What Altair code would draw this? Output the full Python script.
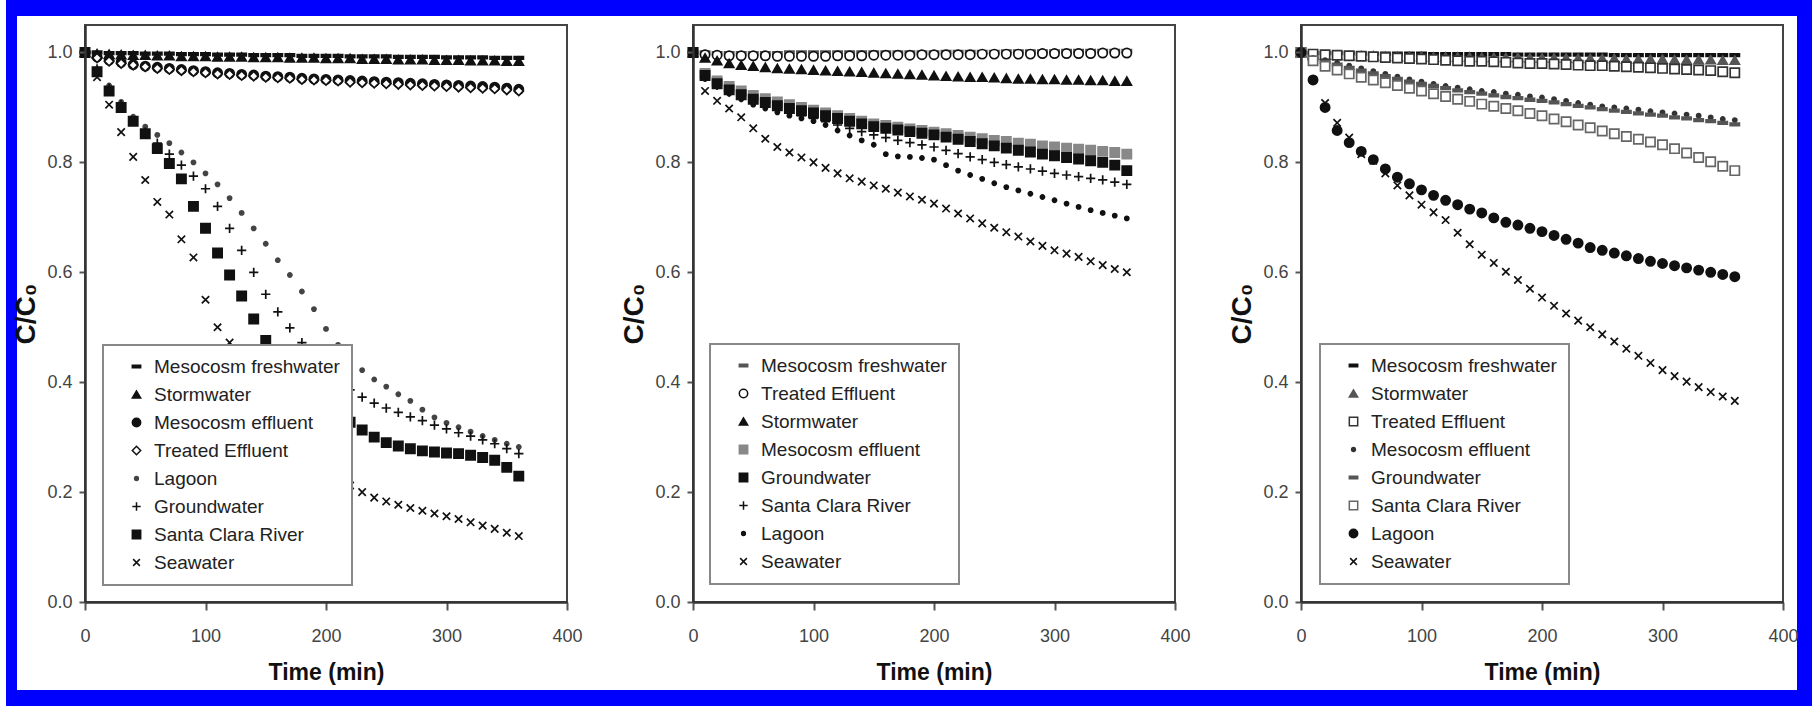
import altair as alt
import pandas as pd

# ---------------- data ----------------
TIME = [0, 10, 20, 30, 40, 50, 60, 70, 80, 90, 100, 110, 120, 130, 140, 150, 160, 170, 180,
        190, 200, 210, 220, 230, 240, 250, 260, 270, 280, 290, 300, 310, 320, 330, 340, 350, 360]

# Panel 1
P1_NAMES = ["Mesocosm freshwater", "Stormwater", "Mesocosm effluent", "Treated Effluent",
            "Lagoon", "Groundwater", "Santa Clara River", "Seawater"]
P1_FRESHWATER = [1.000,1.000,0.999,0.999,0.999,0.998,0.998,0.998,0.997,0.997,0.997,0.996,0.996,0.996,0.995,0.995,0.995,0.995,0.994,0.994,0.994,0.994,0.993,0.993,0.993,0.993,0.992,0.992,0.992,0.992,0.991,0.991,0.991,0.991,0.990,0.990,0.990]
P1_STORMWATER = [1.000,0.998,0.997,0.996,0.995,0.995,0.994,0.994,0.993,0.993,0.993,0.992,0.992,0.992,0.991,0.991,0.991,0.990,0.990,0.990,0.989,0.989,0.989,0.988,0.988,0.988,0.987,0.987,0.987,0.986,0.986,0.986,0.985,0.985,0.985,0.984,0.984]
P1_MESO_EFFLUENT = [1.000,0.992,0.986,0.982,0.978,0.975,0.973,0.971,0.969,0.967,0.965,0.963,0.962,0.960,0.959,0.957,0.956,0.955,0.953,0.952,0.951,0.950,0.949,0.948,0.947,0.946,0.945,0.944,0.943,0.942,0.941,0.940,0.939,0.938,0.937,0.935,0.933]
P1_TREATED = [1.000,0.990,0.984,0.980,0.977,0.974,0.971,0.969,0.967,0.965,0.963,0.961,0.960,0.958,0.957,0.955,0.954,0.953,0.951,0.950,0.949,0.948,0.946,0.945,0.944,0.943,0.942,0.941,0.940,0.939,0.938,0.937,0.936,0.935,0.934,0.932,0.930]
P1_LAGOON = [1.000,0.970,0.940,0.910,0.883,0.865,0.850,0.835,0.818,0.800,0.780,0.760,0.735,0.708,0.680,0.652,0.622,0.595,0.565,0.533,0.497,0.468,0.443,0.422,0.405,0.392,0.378,0.366,0.350,0.336,0.326,0.318,0.310,0.302,0.295,0.288,0.282]
P1_GROUNDWATER = [1.000,0.970,0.935,0.905,0.875,0.855,0.835,0.815,0.795,0.775,0.752,0.720,0.680,0.640,0.600,0.560,0.528,0.499,0.472,0.448,0.425,0.405,0.386,0.373,0.362,0.353,0.345,0.337,0.330,0.322,0.315,0.308,0.302,0.295,0.288,0.279,0.270]
P1_SANTA_CLARA = [1.000,0.965,0.930,0.900,0.875,0.852,0.825,0.798,0.770,0.720,0.680,0.635,0.595,0.557,0.515,0.476,0.445,0.418,0.395,0.375,0.358,0.342,0.327,0.313,0.300,0.290,0.284,0.279,0.275,0.273,0.271,0.270,0.267,0.263,0.258,0.245,0.229]
P1_SEAWATER = [1.000,0.955,0.905,0.855,0.810,0.768,0.728,0.705,0.660,0.627,0.550,0.500,0.472,0.430,0.400,0.370,0.340,0.312,0.287,0.265,0.245,0.228,0.212,0.200,0.190,0.183,0.177,0.171,0.166,0.161,0.156,0.151,0.145,0.139,0.133,0.126,0.120]
P1_SERIES = [P1_FRESHWATER, P1_STORMWATER, P1_MESO_EFFLUENT, P1_TREATED,
             P1_LAGOON, P1_GROUNDWATER, P1_SANTA_CLARA, P1_SEAWATER]

# Panel 2
P2_NAMES = ["Mesocosm freshwater", "Treated Effluent", "Stormwater", "Mesocosm effluent",
            "Groundwater", "Santa Clara River", "Lagoon", "Seawater"]
P2_FRESHWATER = [1.000,1.000,0.999,0.999,0.999,0.999,0.999,0.999,1.000,1.000,1.000,1.000,1.000,1.000,1.000,1.000,1.000,1.000,1.000,1.000,1.000,1.001,1.001,1.001,1.001,1.001,1.002,1.002,1.002,1.002,1.002,1.003,1.003,1.003,1.003,1.003,1.003]
P2_TREATED = [1.000,0.996,0.995,0.994,0.994,0.994,0.994,0.993,0.993,0.993,0.993,0.993,0.994,0.994,0.994,0.995,0.995,0.995,0.995,0.996,0.996,0.996,0.996,0.996,0.997,0.997,0.997,0.997,0.997,0.998,0.998,0.998,0.998,0.998,0.999,0.999,0.999]
P2_STORMWATER = [1.000,0.990,0.985,0.980,0.977,0.975,0.973,0.971,0.970,0.969,0.968,0.967,0.966,0.965,0.964,0.963,0.962,0.961,0.960,0.959,0.958,0.957,0.956,0.955,0.955,0.954,0.953,0.952,0.952,0.951,0.951,0.950,0.950,0.949,0.949,0.948,0.948]
P2_MESO_EFFLUENT = [1.000,0.962,0.948,0.938,0.930,0.922,0.916,0.910,0.905,0.900,0.895,0.890,0.885,0.880,0.875,0.870,0.867,0.864,0.861,0.858,0.855,0.852,0.849,0.846,0.843,0.840,0.838,0.835,0.833,0.830,0.828,0.826,0.824,0.822,0.820,0.818,0.815]
P2_GROUNDWATER = [1.000,0.958,0.943,0.932,0.923,0.915,0.909,0.903,0.898,0.894,0.890,0.885,0.880,0.875,0.870,0.865,0.862,0.859,0.856,0.853,0.850,0.846,0.842,0.838,0.834,0.830,0.826,0.822,0.819,0.815,0.812,0.809,0.806,0.803,0.800,0.795,0.785]
P2_SANTA_CLARA = [1.000,0.955,0.940,0.928,0.918,0.910,0.903,0.896,0.890,0.885,0.880,0.874,0.868,0.862,0.856,0.850,0.845,0.840,0.836,0.832,0.828,0.822,0.816,0.810,0.805,0.800,0.796,0.792,0.788,0.784,0.780,0.777,0.774,0.771,0.768,0.764,0.760]
P2_LAGOON = [1.000,0.952,0.938,0.925,0.915,0.905,0.898,0.891,0.885,0.880,0.875,0.868,0.858,0.849,0.840,0.832,0.815,0.811,0.810,0.808,0.805,0.795,0.785,0.777,0.770,0.762,0.755,0.749,0.743,0.737,0.731,0.725,0.719,0.713,0.708,0.703,0.698]
P2_SEAWATER = [1.000,0.930,0.912,0.898,0.882,0.862,0.843,0.828,0.818,0.809,0.800,0.790,0.780,0.771,0.765,0.758,0.752,0.745,0.738,0.732,0.725,0.716,0.707,0.698,0.689,0.681,0.673,0.665,0.656,0.648,0.640,0.634,0.628,0.620,0.613,0.606,0.600]
P2_SERIES = [P2_FRESHWATER, P2_TREATED, P2_STORMWATER, P2_MESO_EFFLUENT,
             P2_GROUNDWATER, P2_SANTA_CLARA, P2_LAGOON, P2_SEAWATER]

# Panel 3
P3_NAMES = ["Mesocosm freshwater", "Stormwater", "Treated Effluent", "Mesocosm effluent",
            "Groundwater", "Santa Clara River", "Lagoon", "Seawater"]
P3_FRESHWATER = [1.000,0.999,0.999,0.999,0.999,0.998,0.998,0.998,0.998,0.998,0.998,0.997,0.997,0.997,0.997,0.997,0.997,0.997,0.996,0.996,0.996,0.996,0.996,0.996,0.996,0.996,0.995,0.995,0.995,0.995,0.995,0.995,0.995,0.995,0.995,0.995,0.995]
P3_STORMWATER = [1.000,0.996,0.995,0.995,0.994,0.994,0.994,0.993,0.993,0.993,0.993,0.992,0.992,0.992,0.992,0.991,0.991,0.991,0.991,0.990,0.990,0.990,0.990,0.989,0.989,0.989,0.989,0.988,0.988,0.988,0.988,0.987,0.987,0.987,0.987,0.986,0.986]
P3_TREATED = [1.000,0.997,0.996,0.995,0.994,0.993,0.992,0.991,0.990,0.989,0.988,0.987,0.986,0.985,0.984,0.984,0.983,0.982,0.981,0.980,0.980,0.979,0.978,0.977,0.976,0.976,0.975,0.974,0.973,0.972,0.971,0.970,0.969,0.968,0.967,0.965,0.963]
P3_MESO_EFFLUENT = [1.000,0.990,0.986,0.981,0.976,0.971,0.966,0.961,0.956,0.951,0.947,0.943,0.939,0.936,0.933,0.930,0.928,0.925,0.923,0.920,0.918,0.915,0.912,0.908,0.905,0.902,0.900,0.898,0.896,0.893,0.891,0.889,0.887,0.885,0.882,0.879,0.877]
P3_GROUNDWATER = [1.000,0.988,0.983,0.978,0.972,0.967,0.962,0.957,0.952,0.947,0.943,0.939,0.935,0.931,0.928,0.925,0.922,0.919,0.917,0.914,0.912,0.909,0.906,0.903,0.900,0.897,0.894,0.892,0.889,0.887,0.885,0.882,0.880,0.877,0.875,0.872,0.869]
P3_SANTA_CLARA = [1.000,0.985,0.975,0.968,0.961,0.955,0.950,0.945,0.940,0.935,0.930,0.925,0.920,0.915,0.911,0.906,0.902,0.898,0.894,0.889,0.885,0.879,0.874,0.868,0.863,0.857,0.852,0.847,0.842,0.837,0.832,0.825,0.817,0.809,0.801,0.793,0.785]
P3_LAGOON = [1.000,0.950,0.900,0.858,0.836,0.820,0.805,0.788,0.773,0.761,0.750,0.740,0.731,0.723,0.715,0.708,0.699,0.691,0.686,0.680,0.674,0.667,0.660,0.653,0.645,0.640,0.635,0.630,0.625,0.620,0.616,0.612,0.608,0.604,0.600,0.596,0.592]
P3_SEAWATER = [1.000,0.950,0.908,0.872,0.845,0.815,0.803,0.780,0.758,0.740,0.723,0.709,0.695,0.672,0.651,0.632,0.617,0.601,0.586,0.570,0.554,0.539,0.525,0.512,0.500,0.487,0.474,0.461,0.448,0.435,0.422,0.411,0.401,0.391,0.382,0.374,0.366]
P3_SERIES = [P3_FRESHWATER, P3_STORMWATER, P3_TREATED, P3_MESO_EFFLUENT,
             P3_GROUNDWATER, P3_SANTA_CLARA, P3_LAGOON, P3_SEAWATER]

X_TICKS = [0, 100, 200, 300, 400]
Y_TICKS = [0.0, 0.2, 0.4, 0.6, 0.8, 1.0]

# ---------------- styling ----------------
DASH = "M-1,-0.28L1,-0.28L1,0.28L-1,0.28Z"
DOT = "M-0.45,0A0.45,0.45 0 1,1 0.45,0A0.45,0.45 0 1,1 -0.45,0Z"
PLUS = "M-1,0L1,0M0,-1L0,1"
XMARK = "M-0.8,-0.8L0.8,0.8M-0.8,0.8L0.8,-0.8"
K = "#111111"

P1_STYLE = dict(
    shapes=[DASH, "triangle-up", "circle", "diamond", DOT, PLUS, "square", XMARK],
    fills=[K, K, K, "white", "#444444", "transparent", K, "transparent"],
    strokes=[K, K, K, K, "#444444", K, K, K],
)
P2_STYLE = dict(
    shapes=[DASH, "circle", "triangle-up", "square", "square", PLUS, DOT, XMARK],
    fills=["#555555", "white", K, "#888888", K, "transparent", K, "transparent"],
    strokes=["#555555", K, K, "#888888", K, K, K, K],
)
P3_STYLE = dict(
    shapes=[DASH, "triangle-up", "square", DOT, DASH, "square", "circle", XMARK],
    fills=[K, "#555555", "white", "#333333", "#555555", "white", K, "transparent"],
    strokes=[K, "#555555", "#333333", "#333333", "#555555", "#666666", K, K],
)

W, H = 482, 577
BLUE = "#0000FF"
FONT = "Liberation Sans, Arial, sans-serif"


def long_table(names, series):
    rows = []
    for name, vals in zip(names, series):
        for t, v in zip(TIME, vals):
            rows.append({"series": name, "t": t, "v": v})
    return pd.DataFrame(rows)


def box(x, x2, y, y2, **mark):
    return alt.Chart(pd.DataFrame({"k": [0]})).mark_rect(**mark).encode(
        x=alt.value(x), x2=alt.value(x2), y=alt.value(y), y2=alt.value(y2))


def panel(names, series, style, legend_xy, white_x, extra=None):
    df = long_table(names, series)
    leg = alt.Legend(title=None, orient="none", legendX=legend_xy[0], legendY=legend_xy[1],
                     labelLimit=400, zindex=2)
    pts = alt.Chart(df).mark_point(size=85, strokeWidth=1.7, opacity=1).encode(
        x=alt.X("t:Q", scale=alt.Scale(domain=[0, 400], nice=False),
                axis=alt.Axis(values=X_TICKS, format="d", title="Time (min)", zindex=2)),
        y=alt.Y("v:Q", scale=alt.Scale(domain=[0, 1.05], nice=False, zero=False),
                axis=alt.Axis(values=Y_TICKS, format=".1f", title="C/C\u2080", zindex=2)),
        shape=alt.Shape("series:N", scale=alt.Scale(domain=names, range=style["shapes"]), legend=leg),
        fill=alt.Fill("series:N", scale=alt.Scale(domain=names, range=style["fills"]), legend=leg),
        stroke=alt.Stroke("series:N", scale=alt.Scale(domain=names, range=style["strokes"]), legend=leg),
    )
    layers = [box(white_x[0], white_x[1], -9, 665, fill="white")]
    if extra:
        layers += extra
    layers.append(box(0, W, 0, H, fillOpacity=0, stroke="#444444", strokeWidth=2))
    layers.append(pts)
    return alt.layer(*layers).properties(width=W, height=H)


p1 = panel(P1_NAMES, P1_SERIES, P1_STYLE, (18, 320), (-68, 521),
           extra=[box(-85, -79, -25, 681, fill="white")])
p2 = panel(P2_NAMES, P2_SERIES, P2_STYLE, (17, 319), (-87, 521))
p3 = panel(P3_NAMES, P3_SERIES, P3_STYLE, (19, 319), (-87, 496),
           extra=[box(496, 511, -25, 681, fill=BLUE)])

chart = alt.hconcat(p1, p2, p3, spacing=126, bounds="flush").resolve_scale(
    shape="independent", fill="independent", stroke="independent"
).resolve_legend(
    shape="independent", fill="independent", stroke="independent"
).properties(
    padding=0, background=BLUE
).configure_view(
    strokeWidth=0
).configure_axis(
    grid=False, labelFont=FONT, labelFontSize=18, labelColor="#444444",
    tickColor="#555555", tickWidth=2, domainColor="#333333", domainWidth=2.5,
    titleFont=FONT, titleFontWeight="bold", titleColor="#111111"
).configure_axisX(
    tickSize=8, labelPadding=17, titlePadding=16, titleFontSize=23, labelFlush=False
).configure_axisY(
    tickSize=6, labelPadding=7, titlePadding=6, titleFontSize=28
).configure_legend(
    labelFont=FONT, labelFontSize=19, labelColor="#222222", symbolSize=70,
    symbolStrokeWidth=1.5, fillColor="white", strokeColor="#888888", strokeWidth=2,
    padding=12, rowPadding=8, symbolOffset=12, labelOffset=8
)

chart.save("out.html", embed_options={"renderer": "svg", "actions": False})
